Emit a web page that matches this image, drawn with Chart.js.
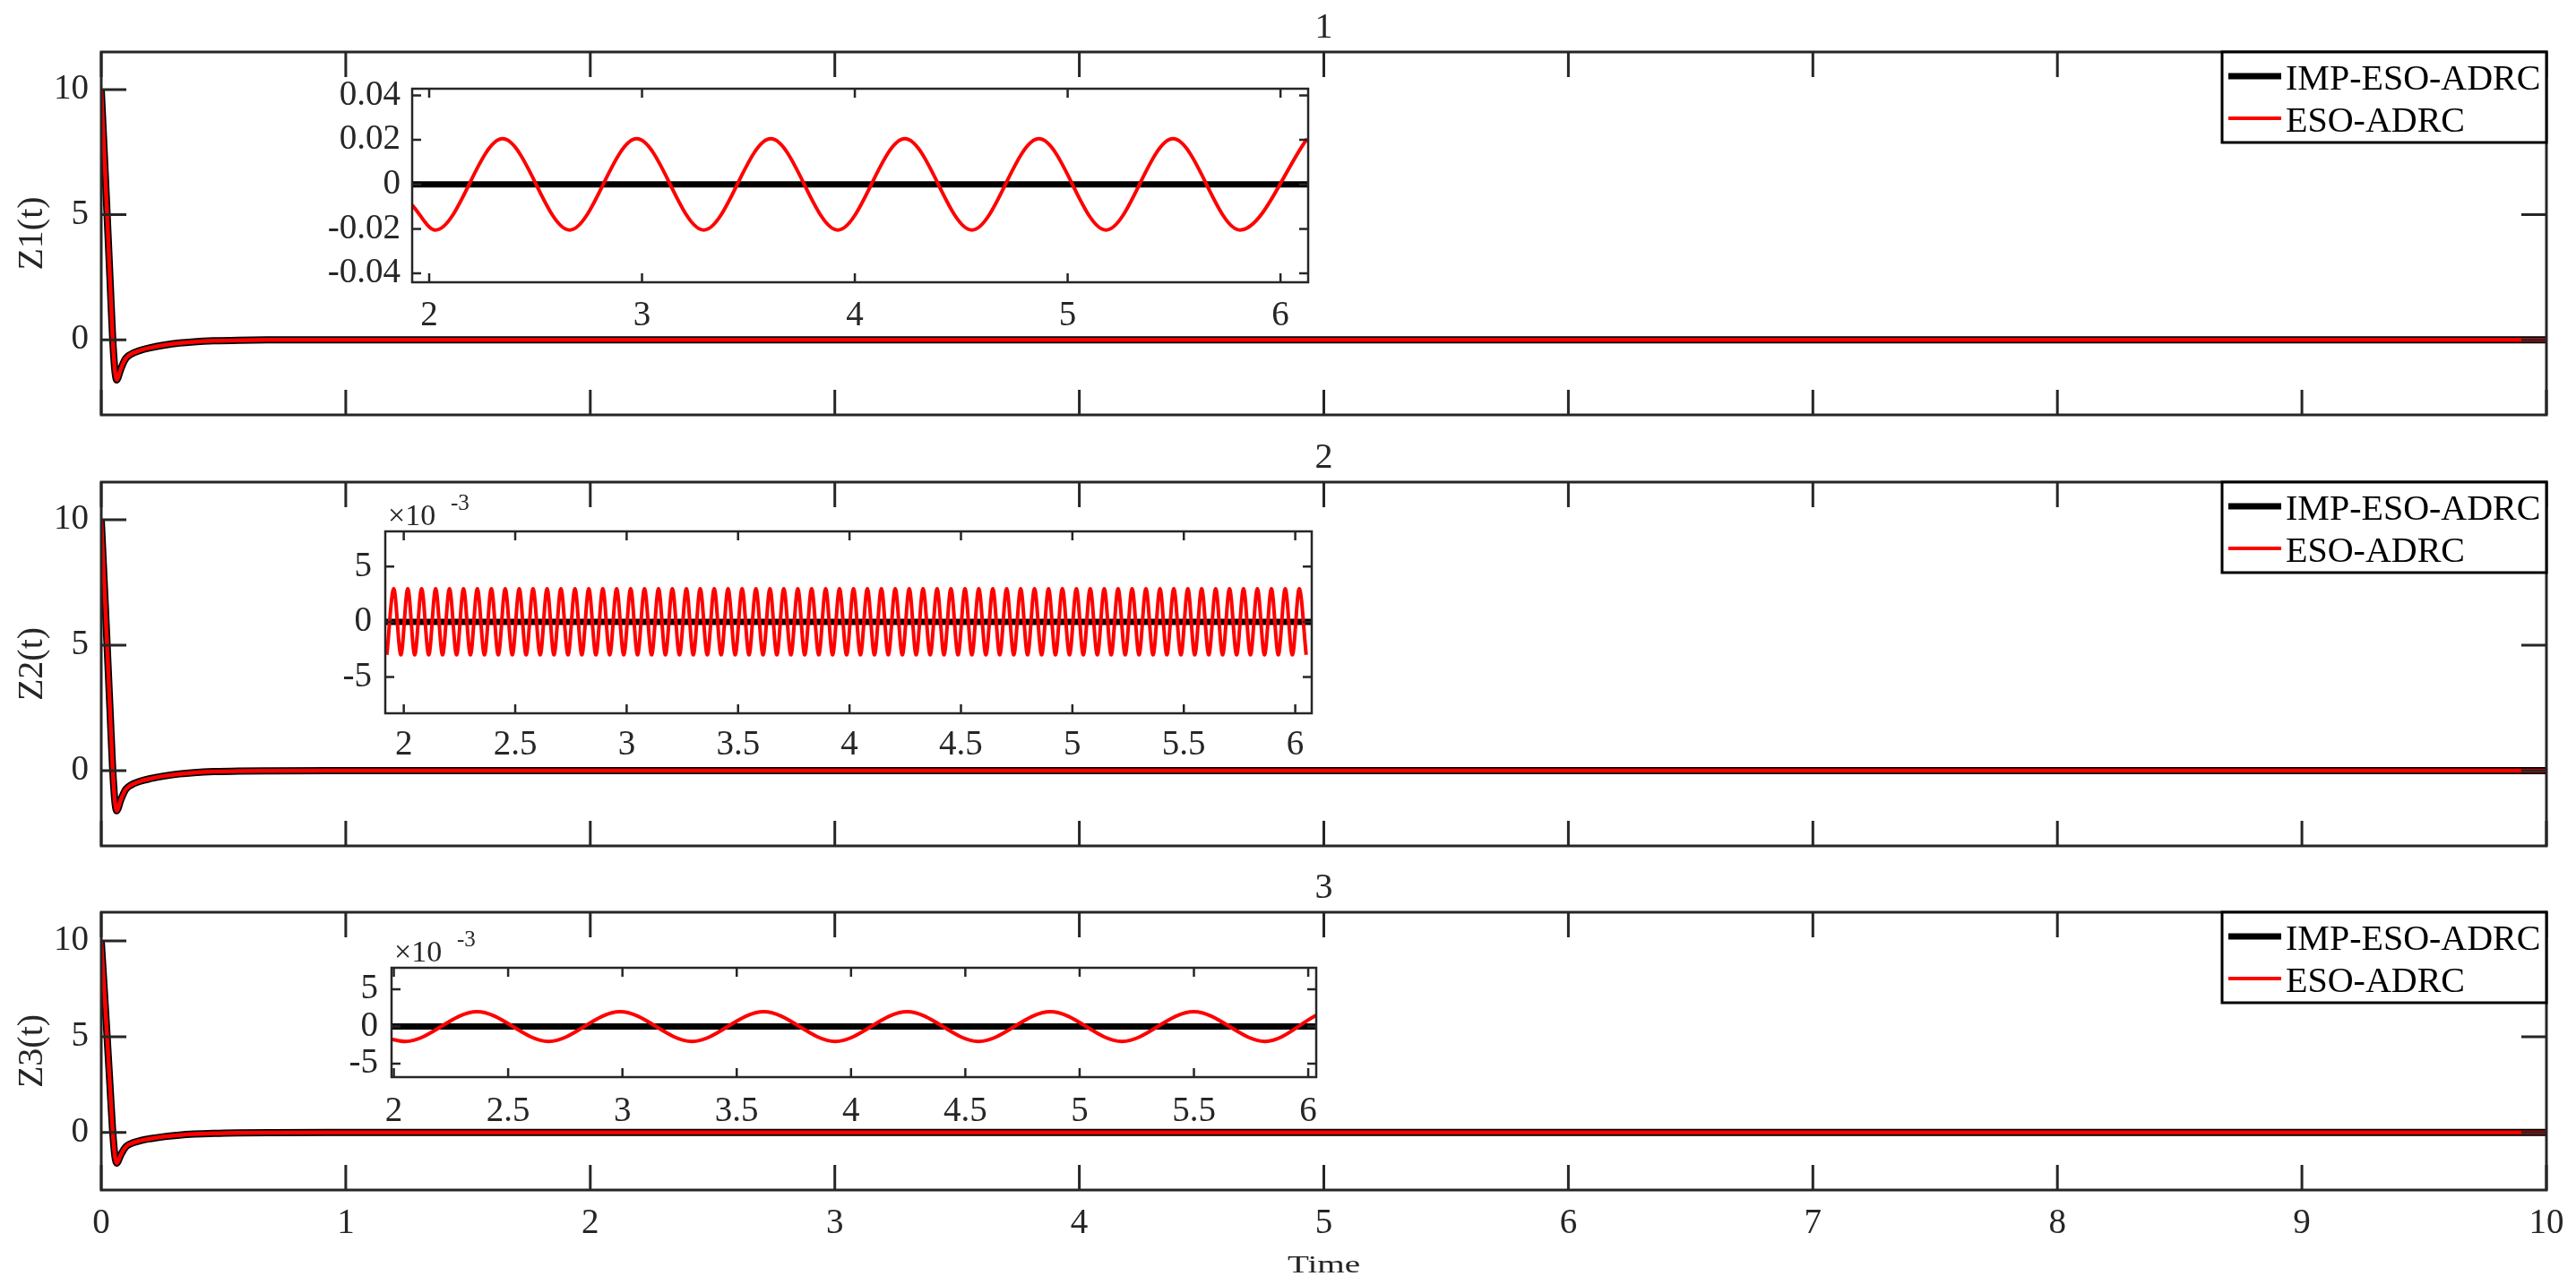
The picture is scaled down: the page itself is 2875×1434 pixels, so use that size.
<!DOCTYPE html>
<html>
<head>
<meta charset="utf-8">
<script src="https://cdn.jsdelivr.net/npm/chart.js@4.4.1/dist/chart.umd.min.js"></script>
<style>
  html, body { margin: 0; padding: 0; background: #fff; }
  #page { position: relative; width: 2875px; height: 1434px; overflow: hidden; background: #fff; }
  #page canvas { position: absolute; }
</style>
</head>
<body>
<div id="page"></div>
<script>
// ---- data ----
// transient of Z1, Z2, Z3 (the three panels look the same at this scale)
const mainT = [0, 0.012, 0.024, 0.036, 0.046, 0.053, 0.058, 0.063, 0.069, 0.077, 0.087, 0.1, 0.117,
  0.16, 0.2, 0.26, 0.32, 0.38, 0.46, 0.56, 0.7, 1, 2, 4, 6, 8, 10];
const mainImp = [10, 7.5, 5.0, 2.4, 0.2, -0.9, -1.4, -1.6, -1.5, -1.25, -1.0, -0.75, -0.6,
  -0.42, -0.32, -0.21, -0.13, -0.08, -0.04, -0.015, -0.005, 0, 0, 0, 0, 0, 0];
const mainEso = [10, 7.5, 5.0, 2.4, 0.2, -0.9, -1.4, -1.6, -1.5, -1.25, -1.0, -0.75, -0.6,
  -0.42, -0.32, -0.21, -0.13, -0.08, -0.04, -0.015, -0.005, 0, 0, 0, 0, 0, 0];

// inset 1 (Z1, zoom 2..6)
const inset1ImpT = [1.92, 6.13];
const inset1Imp = [0, 0];
const inset1T = [1.92, 2.03, 2.345, 2.66, 2.975, 3.29, 3.605, 3.92, 4.235, 4.55, 4.865, 5.18, 5.495, 5.81, 6.125];
const inset1Eso = [-0.0093, -0.0205, 0.0205, -0.0205, 0.0205, -0.0205, 0.0205, -0.0205, 0.0205,
  -0.0205, 0.0205, -0.0205, 0.0205, -0.0205, 0.0205];

// inset 2 (Z2, values in 1e-3), peaks and troughs of the fast ripple
const inset2ImpT = [1.917, 6.074];
const inset2Imp = [0, 0];
const inset2T = [
  1.924, 1.955, 1.987, 2.018, 2.049, 2.080, 2.112, 2.143, 2.174, 2.205, 2.237, 2.268, 2.299, 2.330, 2.362, 2.393,
  2.424, 2.455, 2.487, 2.518, 2.549, 2.580, 2.612, 2.643, 2.674, 2.705, 2.737, 2.768, 2.799, 2.830, 2.862, 2.893,
  2.924, 2.955, 2.987, 3.018, 3.049, 3.080, 3.112, 3.143, 3.174, 3.205, 3.237, 3.268, 3.299, 3.330, 3.362, 3.393,
  3.424, 3.455, 3.487, 3.518, 3.549, 3.580, 3.612, 3.643, 3.674, 3.705, 3.737, 3.768, 3.799, 3.830, 3.862, 3.893,
  3.924, 3.955, 3.987, 4.018, 4.049, 4.080, 4.112, 4.143, 4.174, 4.205, 4.237, 4.268, 4.299, 4.330, 4.362, 4.393,
  4.424, 4.455, 4.487, 4.518, 4.549, 4.580, 4.612, 4.643, 4.674, 4.705, 4.737, 4.768, 4.799, 4.830, 4.862, 4.893,
  4.924, 4.955, 4.987, 5.018, 5.049, 5.080, 5.112, 5.143, 5.174, 5.205, 5.237, 5.268, 5.299, 5.330, 5.362, 5.393,
  5.424, 5.455, 5.487, 5.518, 5.549, 5.580, 5.612, 5.643, 5.674, 5.705, 5.737, 5.768, 5.799, 5.830, 5.862, 5.893,
  5.924, 5.955, 5.987, 6.018, 6.049
];
const inset2Eso = [
  -3, 3, -3, 3, -3, 3, -3, 3, -3, 3, -3, 3, -3, 3, -3, 3,
  -3, 3, -3, 3, -3, 3, -3, 3, -3, 3, -3, 3, -3, 3, -3, 3,
  -3, 3, -3, 3, -3, 3, -3, 3, -3, 3, -3, 3, -3, 3, -3, 3,
  -3, 3, -3, 3, -3, 3, -3, 3, -3, 3, -3, 3, -3, 3, -3, 3,
  -3, 3, -3, 3, -3, 3, -3, 3, -3, 3, -3, 3, -3, 3, -3, 3,
  -3, 3, -3, 3, -3, 3, -3, 3, -3, 3, -3, 3, -3, 3, -3, 3,
  -3, 3, -3, 3, -3, 3, -3, 3, -3, 3, -3, 3, -3, 3, -3, 3,
  -3, 3, -3, 3, -3, 3, -3, 3, -3, 3, -3, 3, -3, 3, -3, 3,
  -3, 3, -3, 3, -3
];

// inset 3 (Z3, values in 1e-3)
const inset3ImpT = [1.99, 6.035];
const inset3Imp = [0, 0];
const inset3T = [1.99, 2.05, 2.364, 2.677, 2.99, 3.304, 3.618, 3.931, 4.245, 4.558, 4.872, 5.185, 5.499, 5.812, 6.035];
const inset3Eso = [-1.7, -2.0, 2.0, -2.0, 2.0, -2.0, 2.0, -2.0, 2.0, -2.0, 2.0, -2.0, 2.0, -2.0, 1.5];

// axis ranges and ticks
const mainXRange = [0, 10];
const mainYRange = [-3, 11.5];
const mainXTicks = [0, 1, 2, 3, 4, 5, 6, 7, 8, 9, 10];
const mainYTicks = [0, 5, 10];
const inset1XRange = [1.92, 6.13];
const inset1YRange = [-0.044, 0.043];
const inset1XTicks = [2, 3, 4, 5, 6];
const inset1YTicks = [-0.04, -0.02, 0, 0.02, 0.04];
const inset2XRange = [1.917, 6.074];
const inset2YRange = [-8.3, 8.2];
const inset3XRange = [1.99, 6.035];
const inset3YRange = [-6.8, 7.9];
const inset23XTicks = [2, 2.5, 3, 3.5, 4, 4.5, 5, 5.5, 6];
const inset23YTicks = [-5, 0, 5];

const seriesNames = ['IMP-ESO-ADRC', 'ESO-ADRC'];
const panelTitles = ['1', '2', '3'];
const yTitles = ['Z1(t)', 'Z2(t)', 'Z3(t)'];

// ---- drawing ----
const FONT = '"Liberation Serif", "Times New Roman", serif';
const INK = '#262626';
const page = document.getElementById('page');

const boxTicks = {
  id: 'boxTicks',
  beforeDatasetsDraw(chart, args, o) {
    if (!o.fill) return;
    const a = chart.chartArea;
    chart.ctx.save();
    chart.ctx.fillStyle = o.fill;
    chart.ctx.fillRect(a.left, a.top, a.width, a.height);
    chart.ctx.restore();
  },
  afterDatasetsDraw(chart, args, o) {
    const { ctx, chartArea: a, scales: { x, y } } = chart;
    ctx.save();
    ctx.strokeStyle = INK;
    ctx.lineWidth = o.width;
    ctx.beginPath();
    x.ticks.forEach(t => {
      const px = x.getPixelForValue(t.value);
      ctx.moveTo(px, a.bottom); ctx.lineTo(px, a.bottom - o.len);
      ctx.moveTo(px, a.top); ctx.lineTo(px, a.top + o.len);
    });
    y.ticks.forEach(t => {
      const py = y.getPixelForValue(t.value);
      ctx.moveTo(a.left, py); ctx.lineTo(a.left + o.len, py);
      ctx.moveTo(a.right, py); ctx.lineTo(a.right - o.len, py);
    });
    ctx.stroke();
    ctx.strokeRect(a.left, a.top, a.width, a.height);
    ctx.restore();
  }
};

const overlay = {
  id: 'overlay',
  afterDraw(chart, args, o) {
    const ctx = chart.ctx;
    ctx.save();
    ctx.translate(-o.origin[0], -o.origin[1]);
    (o.texts || []).forEach(t => {
      ctx.save();
      ctx.font = t.font;
      ctx.fillStyle = INK;
      ctx.textAlign = t.align || 'center';
      ctx.textBaseline = 'alphabetic';
      ctx.translate(t.x, t.y);
      if (t.rotate) ctx.rotate(t.rotate);
      if (t.sx) ctx.scale(t.sx, 1);
      ctx.fillText(t.text, 0, 0);
      ctx.restore();
    });
    const lg = o.legend;
    if (lg) {
      ctx.fillStyle = '#fff';
      ctx.fillRect(lg.x, lg.y, lg.w, lg.h);
      ctx.strokeStyle = '#000';
      ctx.lineWidth = 3;
      ctx.strokeRect(lg.x, lg.y, lg.w, lg.h);
      chart.data.datasets.slice(0, 2).forEach((ds, i) => {
        const yy = lg.y + 27 + i * 47;
        ctx.strokeStyle = ds.borderColor;
        ctx.lineWidth = i === 0 ? 7 : 4;
        ctx.beginPath();
        ctx.moveTo(lg.x + 7, yy);
        ctx.lineTo(lg.x + 66, yy);
        ctx.stroke();
        ctx.fillStyle = '#000';
        ctx.font = '40px ' + FONT;
        ctx.textAlign = 'left';
        ctx.fillText(ds.label, lg.x + 71, lg.y + 42 + i * 47);
      });
    }
    ctx.restore();
  }
};

function pts(xs, ys) {
  return xs.map((v, i) => ({ x: v, y: ys[i] }));
}

// box = plot area in page px, pad = room around it; the y axis takes pad.l - 4 px
// and the x axis pad.b - 10 px so that its labels are not clipped
function makeChart(box, pad, spec) {
  const c = document.createElement('canvas');
  const W = box.r - box.l + pad.l + pad.r;
  const H = box.b - box.t + pad.t + pad.b;
  c.width = W;
  c.height = H;
  c.style.left = (box.l - pad.l) + 'px';
  c.style.top = (box.t - pad.t) + 'px';
  c.style.width = W + 'px';
  c.style.height = H + 'px';
  page.appendChild(c);

  const yW = pad.l - 4;
  const xH = pad.b - 10;
  const tickFont = { family: FONT, size: 39 };
  return new Chart(c.getContext('2d'), {
    type: 'line',
    data: { datasets: spec.datasets },
    options: {
      responsive: false,
      animation: false,
      devicePixelRatio: 1,
      layout: { padding: { left: pad.l - yW, top: pad.t, right: pad.r, bottom: pad.b - xH } },
      elements: { point: { radius: 0 }, line: { cubicInterpolationMode: 'monotone' } },
      plugins: {
        legend: { display: false },
        tooltip: { enabled: false },
        boxTicks: { width: spec.axisWidth, len: spec.tickLen, fill: spec.fill },
        overlay: { origin: [box.l - pad.l, box.t - pad.t], texts: spec.texts, legend: spec.legend }
      },
      scales: {
        x: {
          type: 'linear',
          min: spec.xRange[0],
          max: spec.xRange[1],
          afterBuildTicks: s => { s.ticks = spec.xTicks.map(v => ({ value: v })); },
          afterFit: s => { s.height = xH; },
          grid: { display: false, drawTicks: false },
          border: { display: false },
          ticks: {
            display: spec.showX,
            padding: spec.xPad,
            font: tickFont,
            color: INK,
            maxRotation: 0,
            autoSkip: false,
            callback: v => String(v)
          }
        },
        y: {
          type: 'linear',
          min: spec.yRange[0],
          max: spec.yRange[1],
          afterBuildTicks: s => { s.ticks = spec.yTicks.map(v => ({ value: v })); },
          afterFit: s => { s.width = yW; },
          grid: { display: false, drawTicks: false },
          border: { display: false },
          ticks: {
            padding: spec.yPad,
            font: tickFont,
            color: INK,
            autoSkip: false,
            callback: v => String(v)
          }
        }
      }
    },
    plugins: [boxTicks, overlay]
  });
}

function lineSets(impX, impY, esoX, esoY, wBlack, wRed) {
  return [
    { label: seriesNames[0], data: pts(impX, impY), borderColor: '#000000', borderWidth: wBlack, order: 2 },
    { label: seriesNames[1], data: pts(esoX, esoY), borderColor: '#ff0000', borderWidth: wRed, order: 1 }
  ];
}

// main panels
const panels = [
  { t: 58, b: 463 },
  { t: 538, b: 944 },
  { t: 1018, b: 1328 }
];
const mainL = 113, mainR = 2842;

panels.forEach((p, i) => {
  const texts = [
    { text: panelTitles[i], font: '40px ' + FONT, x: (mainL + mainR) / 2, y: p.t - 16 },
    { text: yTitles[i], font: '40px ' + FONT, x: 47, y: (p.t + p.b) / 2, rotate: -Math.PI / 2 }
  ];
  if (i === 2) {
    texts.push({ text: 'Time', font: '27px ' + FONT, x: (mainL + mainR) / 2, y: 1420, sx: 1.45 });
  }
  makeChart({ l: mainL, r: mainR, t: p.t, b: p.b }, { l: 113, t: 80, r: 60, b: 110 }, {
    datasets: lineSets(mainT, mainImp, mainT, mainEso, 8, 4.5),
    xRange: mainXRange, yRange: mainYRange, xTicks: mainXTicks, yTicks: mainYTicks,
    showX: i === 2, xPad: 14, yPad: 14,
    axisWidth: 3, tickLen: 28,
    texts: texts,
    legend: { x: 2480, y: p.t, w: mainR - 2480, h: 101 }
  });
});

// insets
const insetPad = { l: 110, t: 60, r: 60, b: 80 };

makeChart({ l: 460, r: 1460, t: 99, b: 315 }, insetPad, {
  datasets: lineSets(inset1ImpT, inset1Imp, inset1T, inset1Eso, 7, 4),
  xRange: inset1XRange, yRange: inset1YRange, xTicks: inset1XTicks, yTicks: inset1YTicks,
  showX: true, xPad: 14, yPad: 13, axisWidth: 2.5, tickLen: 10, fill: '#fff', texts: []
});

makeChart({ l: 430, r: 1464, t: 593, b: 796 }, insetPad, {
  datasets: lineSets(inset2ImpT, inset2Imp, inset2T, inset2Eso, 7, 4),
  xRange: inset2XRange, yRange: inset2YRange, xTicks: inset23XTicks, yTicks: inset23YTicks,
  showX: true, xPad: 12, yPad: 15, axisWidth: 2.5, tickLen: 10, fill: '#fff',
  texts: [
    { text: '\u00d710', font: '34px ' + FONT, x: 433, y: 586, align: 'left' },
    { text: '-3', font: '25px ' + FONT, x: 503, y: 569, align: 'left' }
  ]
});

makeChart({ l: 437, r: 1469, t: 1080, b: 1202 }, insetPad, {
  datasets: lineSets(inset3ImpT, inset3Imp, inset3T, inset3Eso, 7, 4),
  xRange: inset3XRange, yRange: inset3YRange, xTicks: inset23XTicks, yTicks: inset23YTicks,
  showX: true, xPad: 15, yPad: 15, axisWidth: 2.5, tickLen: 10, fill: '#fff',
  texts: [
    { text: '\u00d710', font: '34px ' + FONT, x: 440, y: 1073, align: 'left' },
    { text: '-3', font: '25px ' + FONT, x: 510, y: 1056, align: 'left' }
  ]
});
</script>
</body>
</html>
